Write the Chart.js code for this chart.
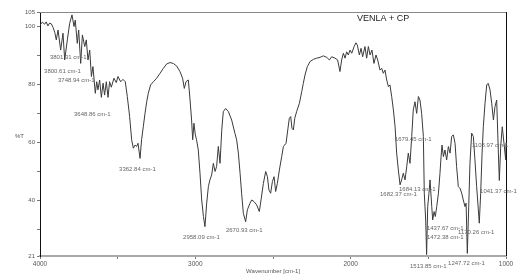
<!DOCTYPE html>
<html>
<head>
<meta charset="utf-8">
<script src="https://cdn.jsdelivr.net/npm/chart.js@4"></script>
<style>
  body { margin: 0; background: #fff; }
  #wrap { width: 526px; height: 280px; position: relative; }
</style>
</head>
<body>
<div id="wrap"><canvas id="grafico"></canvas></div>
<script>
// wavenumber (cm-1) and transmittance (%T)
const wavenumbers = [
  4000, 3985, 3970, 3960, 3949, 3938, 3927, 3916, 3905, 3895, 3884, 3867, 3852, 3841, 3824, 3809,
  3794, 3781, 3773, 3760, 3751, 3738, 3727, 3712, 3702, 3691, 3680, 3669, 3659, 3644, 3635, 3627,
  3616, 3605, 3594, 3584, 3573, 3562, 3552, 3541, 3524, 3509, 3498, 3481, 3466, 3451, 3438, 3423,
  3410, 3399, 3388, 3378, 3369, 3356, 3346, 3335, 3324, 3313, 3303, 3288, 3270, 3249, 3227, 3206,
  3185, 3163, 3142, 3120, 3099, 3082, 3071, 3060, 3045, 3034, 3024, 3017, 3009, 3000, 2992, 2981,
  2970, 2959, 2948, 2938, 2927, 2916, 2906, 2895, 2884, 2873, 2863, 2852, 2841, 2830, 2820, 2805,
  2787, 2766, 2745, 2734, 2723, 2712, 2702, 2691, 2676, 2665, 2648, 2637, 2622, 2605, 2588, 2577,
  2562, 2547, 2536, 2526, 2515, 2504, 2493, 2483, 2472, 2459, 2444, 2433, 2416, 2405, 2395, 2386,
  2378, 2369, 2360, 2348, 2330, 2315, 2305, 2294, 2279, 2262, 2240, 2219, 2197, 2176, 2154, 2137,
  2122, 2101, 2084, 2069, 2058, 2047, 2036, 2026, 2015, 2004, 1993, 1978, 1966, 1957, 1944, 1933,
  1923, 1908, 1897, 1886, 1875, 1863, 1850, 1837, 1826, 1811, 1800, 1790, 1779, 1768, 1757, 1747,
  1736, 1725, 1714, 1704, 1693, 1682, 1672, 1661, 1650, 1639, 1629, 1618, 1607, 1597, 1586, 1575,
  1564, 1554, 1543, 1532, 1526, 1517, 1511, 1504, 1496, 1489, 1478, 1472, 1463, 1455, 1446, 1435,
  1425, 1418, 1412, 1403, 1393, 1382, 1371, 1360, 1350, 1339, 1328, 1318, 1307, 1296, 1285, 1275,
  1264, 1257, 1249, 1240, 1232, 1221, 1210, 1200, 1189, 1178, 1172, 1163, 1154, 1146, 1135, 1124,
  1114, 1103, 1092, 1081, 1071, 1060, 1049, 1043, 1034, 1024, 1013, 1002, 1000
];
const transmittance = [
  100.5, 101.5, 100.8, 101.6, 100.2, 101.2, 100.9, 99.7, 98, 95.4, 98.8, 91.9, 97.7, 88.5, 95.4, 101.1,
  104, 100, 102.2, 94.2, 98.8, 87.3, 97.1, 93.1, 95.4, 88.5, 91.9, 82.8, 86.2, 77, 81, 78.2,
  81.6, 75.6, 80.5, 76.4, 81, 75.6, 81, 79.1, 82.2, 80.7, 82.8, 81, 81.8, 81, 75.9, 69,
  61, 58.1, 59.2, 58.7, 59.8, 54.6, 61, 65.5, 70.1, 74.1, 77, 79.9, 81, 82.2, 83.9, 85.6,
  87.1, 87.6, 87.3, 86.4, 84.5, 82.2, 78.7, 81, 81.6, 74.7, 67.8, 61, 66.7, 62.7, 61, 57.5,
  49.5, 40.3, 34.6, 31.1, 39.2, 44.9, 47.2, 48.9, 52.9, 50.1, 51.8, 58.7, 52.9, 64.3, 70.7, 71.8,
  70.7, 67.8, 63.2, 61, 56.4, 49.5, 42.6, 35.7, 32.8, 36.9, 39.2, 40.3, 39.7, 38.6, 36.3, 40.3,
  46, 50.1, 48.3, 43.7, 42.6, 46.6, 48.3, 43.2, 46, 50.6, 55.2, 58.7, 59.8, 64.4, 68.4, 69,
  65, 64.4, 68.4, 70.7, 73.6, 77.6, 80.4, 83.3, 86.2, 87.9, 88.7, 89.1, 89.4, 89.9, 89.4, 88.5,
  89.6, 89.1, 88.5, 84.5, 88.5, 90.8, 89.1, 91.3, 90.2, 91.9, 90.8, 93.1, 94.4, 93.6, 90.2, 92.5,
  89.6, 93.1, 89.1, 93.1, 90.2, 91.9, 87.3, 90.2, 88.5, 85, 85.6, 83.9, 85, 81.6, 79.3, 79.9,
  75.9, 71.3, 65.5, 56.4, 50.6, 45.5, 47.2, 49.5, 47.2, 51.8, 56.4, 52.9, 62.1, 71.3, 74.1, 70.1,
  75.9, 74.7, 70.1, 62.1, 42.6, 33.4, 21.5, 38, 42.6, 47.2, 38, 33.4, 36.3, 34.6, 38, 42.6,
  49.5, 55.2, 59.2, 55.2, 57.5, 54.1, 58.7, 56.4, 62.1, 62.7, 59.8, 51.8, 44.9, 44.3, 42.6, 40.3,
  38, 39.2, 21.9, 38, 52.9, 63.3, 62.1, 54.1, 44.9, 36.9, 32.3, 42.6, 56.4, 65.5, 73.6, 80,
  80.4, 78.2, 73.6, 67.8, 72.4, 74.7, 56.4, 47, 58.7, 65.5, 59.8, 54.1, 60
];

// peak labels: text, where the text starts (cm-1) and its level (%T)
const peakTexts = [
  '3801.31 cm-1', '3800.61 cm-1', '3748.94 cm-1', '3648.86 cm-1', '3362.84 cm-1',
  '2958.09 cm-1', '2670.93 cm-1', '1682.37 cm-1', '1684.13 cm-1', '1679.45 cm-1',
  '1437.67 cm-1', '1472.38 cm-1', '1170.26 cm-1', '1108.97 cm-1', '1041.37 cm-1',
  '1513.85 cm-1', '1247.72 cm-1'
];
const peakWaves = [
  3936, 3974, 3884, 3781, 3491,
  3079, 2803, 1811, 1689, 1715,
  1509, 1509, 1309, 1219, 1167,
  1618, 1373
];
const peakLevels = [
  89.5, 84.5, 81.4, 69.9, 50.9,
  27.5, 30, 42.3, 44, 61,
  30.6, 27.5, 29.3, 59.2, 43.4,
  17.6, 18.3
];

const yTicks = [21, 30, 40, 50, 60, 70, 80, 90, 100, 105];
const yLabeled = [21, 40, 60, 80, 100, 105];
const xLabeled = [4000, 3000, 2000, 1000];

const pontos = wavenumbers.map((w, i) => ({ x: w, y: transmittance[i] }));

const textos = {
  id: 'textos',
  afterDraw(chart) {
    const c = chart.ctx;
    const sx = chart.scales.x;
    const sy = chart.scales.y;
    const area = chart.chartArea;
    c.save();
    // top and right frame
    c.strokeStyle = '#888';
    c.lineWidth = 1;
    c.beginPath();
    c.moveTo(area.left, area.top + 0.5);
    c.lineTo(area.right, area.top + 0.5);
    c.stroke();
    c.strokeStyle = '#111';
    c.beginPath();
    c.moveTo(area.right + 0.5, area.top);
    c.lineTo(area.right + 0.5, area.bottom);
    c.stroke();

    c.fillStyle = '#666';
    c.font = '6px "Liberation Sans", Arial, sans-serif';
    c.textAlign = 'left';
    c.textBaseline = 'middle';
    peakTexts.forEach((t, i) => {
      c.fillText(t, sx.getPixelForValue(peakWaves[i]), sy.getPixelForValue(peakLevels[i]));
    });

    c.fillStyle = '#222';
    c.font = '9px "Liberation Sans", Arial, sans-serif';
    c.fillText('VENLA + CP', sx.getPixelForValue(1959), sy.getPixelForValue(102.6));

    c.fillStyle = '#555';
    c.font = '6px "Liberation Sans", Arial, sans-serif';
    c.fillText('%T', 15, (area.top + area.bottom) / 2 + 2);
    c.textAlign = 'center';
    c.fillText('Wavenumber [cm-1]', (area.left + area.right) / 2, 271);
    c.restore();
  }
};

const grafico = new Chart(document.getElementById('grafico').getContext('2d'), {
  type: 'line',
  data: {
    datasets: [{
      data: pontos,
      borderColor: '#3a3a3a',
      borderWidth: 1,
      pointRadius: 0,
      tension: 0,
      fill: false
    }]
  },
  options: {
    responsive: true,
    maintainAspectRatio: false,
    animation: false,
    layout: { padding: { top: 12, right: 20, left: 0, bottom: 0 } },
    plugins: {
      legend: { display: false },
      tooltip: { enabled: false }
    },
    scales: {
      x: {
        type: 'linear',
        reverse: true,
        min: 1000,
        max: 4000,
        afterBuildTicks: s => { s.ticks = [4000, 3500, 3000, 2500, 2000, 1500, 1000].map(v => ({ value: v })); },
        afterFit: s => { s.height = 24; },
        ticks: {
          autoSkip: false,
          maxRotation: 0,
          padding: 1,
          color: '#555',
          font: { family: '"Liberation Sans", Arial, sans-serif', size: 6.5 },
          callback: v => xLabeled.includes(v) ? String(v) : ''
        },
        grid: { drawOnChartArea: false, drawTicks: true, tickLength: 3, color: '#777' },
        border: { color: '#aaa', width: 2 }
      },
      y: {
        min: 21,
        max: 105,
        afterBuildTicks: s => { s.ticks = yTicks.map(v => ({ value: v })); },
        afterFit: s => { s.width = 40; },
        ticks: {
          autoSkip: false,
          padding: 2,
          color: '#555',
          font: { family: '"Liberation Sans", Arial, sans-serif', size: 6 },
          callback: v => yLabeled.includes(v) ? String(v) : ''
        },
        grid: { drawOnChartArea: false, drawTicks: true, tickLength: 3, color: '#777' },
        border: { color: '#111', width: 1 }
      }
    }
  },
  plugins: [textos]
});
</script>
</body>
</html>
